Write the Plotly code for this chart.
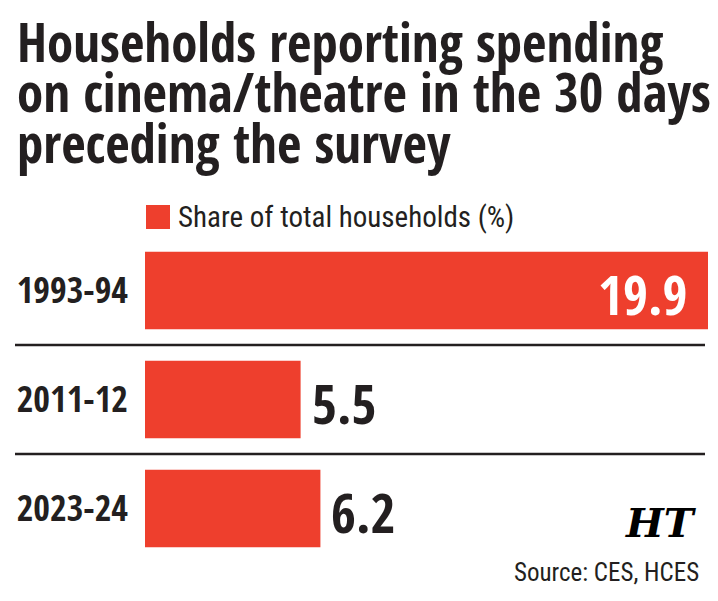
import plotly.graph_objects as go

categories = ["1993-94", "2011-12", "2023-24"]
values = [19.9, 5.5, 6.2]
value_labels = ["19.9", "5.5", "6.2"]
title_lines = ["Households reporting spending",
               "on cinema/theatre in the 30 days",
               "preceding the survey"]
legend_label = "Share of total households (%)"
source_text = "Source: CES, HCES"

W, H = 718, 601
ML, MR, MT, MB = 145, 10, 236, 38
PW, PH = W - ML - MR, H - MT - MB

def px(x):
    return (x - ML) / PW

def py(y):
    return (H - MB - y) / PH

RED = "#ee3f2d"
DARK = "#231f20"
BOLD = "Open Sans Condensed, Roboto Condensed, sans-serif"
REG = "Roboto Condensed, sans-serif"

fig = go.Figure()
fig.add_trace(go.Bar(
    y=list(range(len(categories))),
    x=values,
    orientation="h",
    width=0.71,
    marker=dict(color=RED, line=dict(width=0)),
    showlegend=False,
    hoverinfo="skip",
))

fig.update_layout(
    width=W, height=H,
    margin=dict(l=ML, r=MR, t=MT, b=MB),
    paper_bgcolor="white", plot_bgcolor="white",
    font=dict(family=REG, color=DARK),
    xaxis=dict(range=[0, 19.9], visible=False, fixedrange=True),
    yaxis=dict(
        range=[2.5, -0.5],
        tickmode="array",
        tickvals=list(range(len(categories))),
        ticktext=[f"<b>{c}</b>" for c in categories],
        tickfont=dict(family=BOLD, size=36, color=DARK),
        showgrid=False, zeroline=False, showline=False,
        ticks="", ticklabelstandoff=16, automargin=False,
    ),
)

shapes = []
for yv in [0.5, 1.5]:
    shapes.append(dict(type="line", xref="paper", yref="y",
                       x0=px(15), x1=px(705), y0=yv, y1=yv,
                       line=dict(color=DARK, width=2.5)))
# legend swatch
shapes.append(dict(type="rect", xref="paper", yref="paper",
                   x0=px(146), x1=px(170), y0=py(229), y1=py(205),
                   fillcolor=RED, line=dict(width=0)))
fig.update_layout(shapes=shapes)

ann = []
# value labels positioned on the data scale
for i, (v, lab) in enumerate(zip(values, value_labels)):
    inside = v == max(values)
    ann.append(dict(text=f"<b>{lab}</b>", xref="x", yref="y", x=v, y=i,
                    xanchor="right" if inside else "left", yanchor="middle",
                    xshift=-18 if inside else 9, yshift=-3, showarrow=False,
                    font=dict(family=BOLD, size=54, color="white" if inside else DARK)))

title_y = [41, 91, 142]
for line, yy in zip(title_lines, title_y):
    ann.append(dict(text=f"<b>{line}</b>", xref="paper", yref="paper",
                    x=px(15), y=py(yy), xanchor="left", yanchor="middle",
                    showarrow=False, font=dict(family=BOLD, size=53, color=DARK)))
ann.append(dict(text=legend_label, xref="paper", yref="paper",
                x=px(176), y=py(217), xanchor="left", yanchor="middle",
                showarrow=False, font=dict(family=REG, size=29, color=DARK)))
ann.append(dict(text=source_text, xref="paper", yref="paper",
                x=px(701), y=py(572), xanchor="right", yanchor="middle",
                showarrow=False, font=dict(family=REG, size=25, color=DARK)))
ann.append(dict(text="<b><i>HT</i></b>", xref="paper", yref="paper",
                x=px(699), y=py(522), xanchor="right", yanchor="middle",
                showarrow=False, font=dict(family="DejaVu Serif, Liberation Serif, serif", size=40, color="black")))
fig.update_layout(annotations=ann)

fig.write_html("out.html")
